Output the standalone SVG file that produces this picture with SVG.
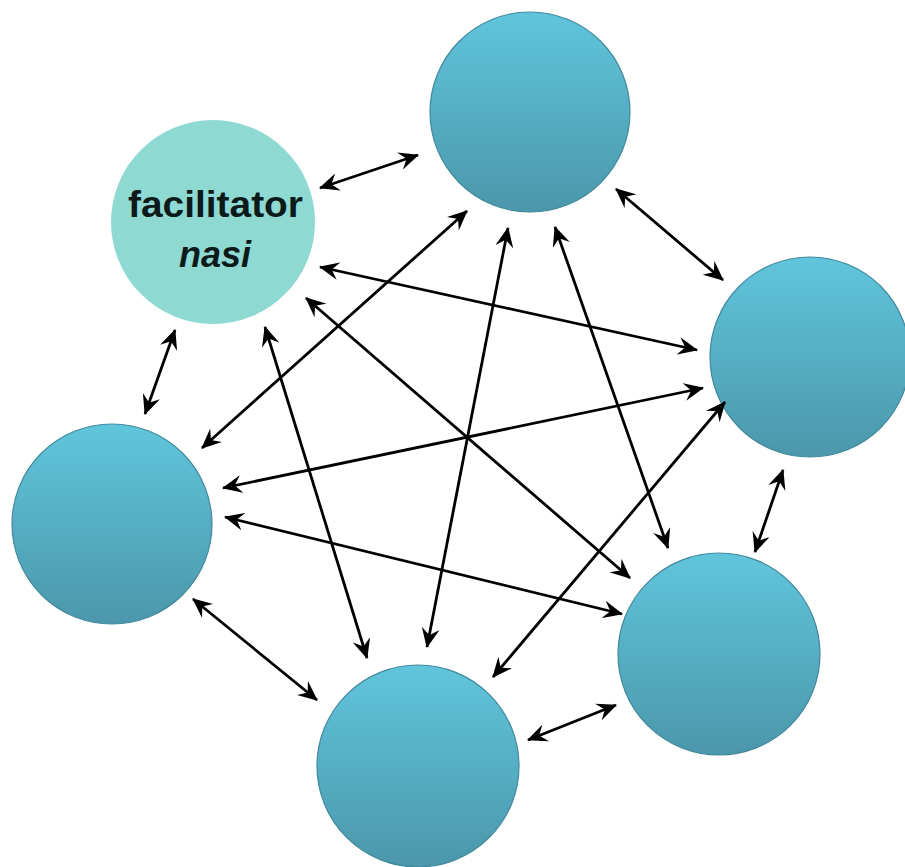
<svg xmlns="http://www.w3.org/2000/svg" width="905" height="867" viewBox="0 0 905 867">
<defs>
<linearGradient id="g" x1="0" y1="0" x2="0" y2="1">
<stop offset="0" stop-color="#60c5dc"/>
<stop offset="1" stop-color="#4b97ab"/>
</linearGradient>
<marker id="ah" markerUnits="userSpaceOnUse" markerWidth="20" markerHeight="18" viewBox="0 0 20 18" refX="19" refY="9" orient="auto-start-reverse">
<path d="M0,0 L20,9 L0,18 L7,9 Z" fill="#000"/>
</marker>
<style>
.n{fill:url(#g);stroke:#42899c;stroke-width:1.2}
.f{fill:#8fd9d3}
.c line{stroke:#000;stroke-width:2.8;marker-start:url(#ah);marker-end:url(#ah)}
.t{font-family:"Liberation Sans",Arial,sans-serif;font-weight:bold;fill:#0d1a1a;text-anchor:middle}
</style>
</defs>
<rect width="905" height="867" fill="#fff"/>
<g id="facilitator"><circle class="f" cx="213" cy="222" r="102"/>
<text class="t" x="215.5" y="217" font-size="36" textLength="175" lengthAdjust="spacingAndGlyphs">facilitator</text>
<text class="t" x="215" y="267" font-size="36" font-style="italic">nasi</text></g>
<g id="top"><circle class="n" cx="530" cy="112" r="100"/></g>
<g id="right"><circle class="n" cx="810" cy="357" r="100"/></g>
<g id="left"><circle class="n" cx="112" cy="524" r="100"/></g>
<g id="bottomright"><circle class="n" cx="719" cy="654" r="101"/></g>
<g id="bottom"><circle class="n" cx="418" cy="766" r="101"/></g>
<g id="connectors" class="c">
<line x1="320" y1="188" x2="418" y2="155"/>
<line x1="616" y1="189" x2="723" y2="280"/>
<line x1="783" y1="470" x2="755" y2="552"/>
<line x1="616" y1="705" x2="528" y2="740"/>
<line x1="193" y1="599" x2="317" y2="700"/>
<line x1="145" y1="414" x2="175" y2="330"/>
<line x1="320" y1="267" x2="697" y2="350"/>
<line x1="306" y1="298" x2="630" y2="578"/>
<line x1="265" y1="327" x2="367" y2="658"/>
<line x1="467" y1="211" x2="202" y2="448"/>
<line x1="508" y1="228" x2="427" y2="647"/>
<line x1="555" y1="227" x2="668" y2="548"/>
<line x1="703" y1="388" x2="223" y2="488"/>
<line x1="725" y1="402" x2="493" y2="677"/>
<line x1="225" y1="517" x2="622" y2="614"/>
</g>
</svg>
